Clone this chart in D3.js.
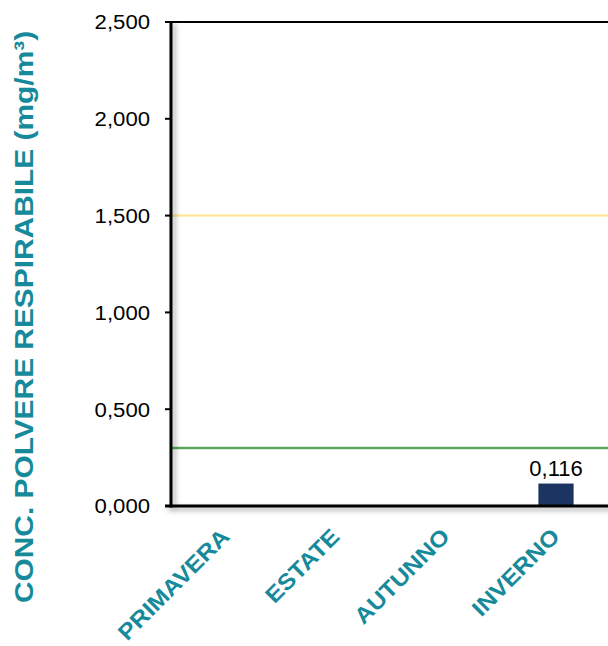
<!DOCTYPE html>
<html>
<head>
<meta charset="utf-8">
<script src="https://cdn.jsdelivr.net/npm/d3@7"></script>
<style>
  html, body { margin: 0; padding: 0; background: #fff; }
  svg { display: block; }
</style>
</head>
<body>
<script>
// ---- data ----
const categories = ["PRIMAVERA", "ESTATE", "AUTUNNO", "INVERNO"];
const values = [null, null, null, 0.116];
const yTicks = [0, 0.5, 1.0, 1.5, 2.0, 2.5];
const limitValues = [0.3, 1.5];
const limitColors = ["#5aa85a", "#ffe79a"];
const yTitle = "CONC. POLVERE RESPIRABILE (mg/m³)";

(function () {
// ---- setup ----
const W = 608, H = 646;
const font = "'Liberation Sans', Arial, sans-serif";
const teal = "#168a9b";
const navy = "#1c3461";

const it = d3.formatLocale({decimal: ",", thousands: ".", grouping: [3], currency: ["", "€"]});
const fmt = it.format(".3f");

const svg = d3.select("body").append("svg").attr("width", W).attr("height", H);

const defs = svg.append("defs");
const f = defs.append("filter").attr("id", "sh").attr("x", "-20%").attr("y", "-20%").attr("width", "140%").attr("height", "140%");
f.append("feDropShadow").attr("dx", 3).attr("dy", 3).attr("stdDeviation", 2.5)
  .attr("flood-color", "#000").attr("flood-opacity", 0.35);

const pL = 171, pR = 611, pT = 22, pB = 506;

const x = d3.scaleBand().domain(categories).range([pL, pR]).paddingInner(0.68).paddingOuter(0.34);
const y = d3.scaleLinear().domain([0, 2.5]).range([pB, pT]);

// top border
svg.append("line").attr("x1", pL - 6).attr("x2", pR).attr("y1", y(2.5)).attr("y2", y(2.5))
  .attr("stroke", "#000").attr("stroke-width", 2);

// limit lines
svg.selectAll("line.limit").data(limitValues).join("line")
  .attr("class", "limit")
  .attr("x1", pL).attr("x2", pR)
  .attr("y1", d => y(d)).attr("y2", d => y(d))
  .attr("stroke", (d, i) => limitColors[i]).attr("stroke-width", 2.5);

// bars
const barData = categories.map((c, i) => ({c, v: values[i]})).filter(d => d.v != null);
svg.selectAll("rect.bar").data(barData).join("rect")
  .attr("class", "bar")
  .attr("x", d => x(d.c)).attr("width", x.bandwidth())
  .attr("y", d => y(d.v)).attr("height", d => y(0) - y(d.v))
  .attr("fill", navy);

// value labels
svg.selectAll("text.val").data(barData).join("text")
  .attr("class", "val")
  .attr("x", d => x(d.c) + x.bandwidth() / 2)
  .attr("y", d => y(d.v) - 8)
  .attr("text-anchor", "middle")
  .attr("font-family", font).attr("font-size", 22).attr("fill", "#000")
  .text(d => fmt(d.v));

// axes with shadow
const axG = svg.append("g").attr("filter", "url(#sh)");
axG.append("line").attr("x1", pL).attr("x2", pL).attr("y1", pT - 1).attr("y2", pB + 1.5)
  .attr("stroke", "#000").attr("stroke-width", 3);
axG.append("line").attr("x1", pL - 6).attr("x2", pR).attr("y1", pB).attr("y2", pB)
  .attr("stroke", "#000").attr("stroke-width", 3);

// y ticks
svg.selectAll("line.yt").data(yTicks).join("line")
  .attr("class", "yt")
  .attr("x1", pL - 6).attr("x2", pL).attr("y1", d => y(d)).attr("y2", d => y(d))
  .attr("stroke", "#000").attr("stroke-width", 2);

svg.selectAll("text.yl").data(yTicks).join("text")
  .attr("class", "yl")
  .attr("transform", d => `translate(150,${y(d) + 7.4}) scale(1.08,1)`)
  .attr("text-anchor", "end")
  .attr("font-family", font).attr("font-size", 20.5).attr("fill", "#000")
  .text(d => fmt(d));

// x labels
svg.selectAll("text.xl").data(categories).join("text")
  .attr("class", "xl")
  .attr("transform", d => `translate(${x(d) + x.bandwidth() / 2 + 5},538) rotate(-45) scale(1.1,1)`)
  .attr("text-anchor", "end")
  .attr("font-family", font).attr("font-size", 22.5).attr("font-weight", "bold").attr("fill", teal)
  .text(d => d);

// y title
svg.append("text")
  .attr("transform", "translate(33,317) rotate(-90) scale(1.15,1)")
  .attr("text-anchor", "middle")
  .attr("font-family", font).attr("font-size", 26).attr("font-weight", "bold").attr("fill", teal)
  .text(yTitle);
})();
</script>
</body>
</html>
